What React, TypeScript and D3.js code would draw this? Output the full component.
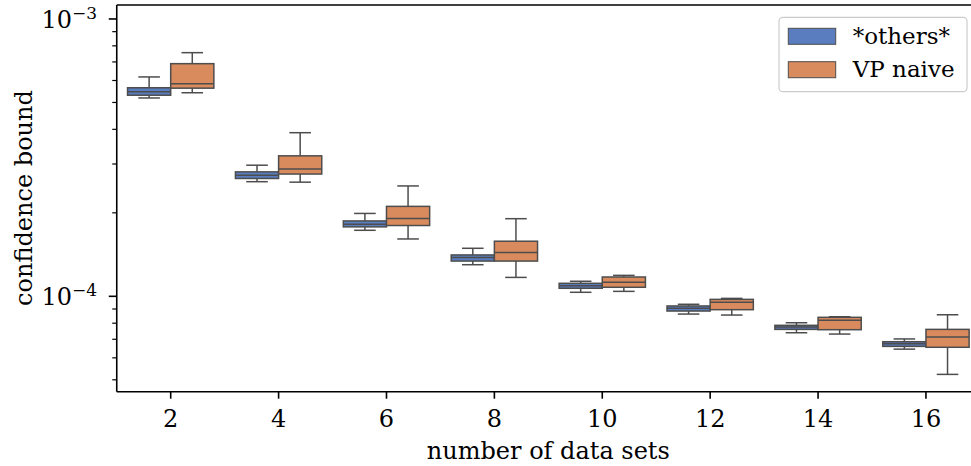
import React from "react";
import * as d3 from "d3";

const categories = ["2", "4", "6", "8", "10", "12", "14", "16"];
const seriesNames = ["*others*", "VP naive"];
// [whiskerLow, q1, median, q3, whiskerHigh]
const othersStats = [
  [5.19e-4, 5.31e-4, 5.47e-4, 5.65e-4, 6.18e-4],
  [2.59e-4, 2.66e-4, 2.73e-4, 2.81e-4, 2.97e-4],
  [1.73e-4, 1.78e-4, 1.82e-4, 1.87e-4, 1.99e-4],
  [1.3e-4, 1.34e-4, 1.38e-4, 1.41e-4, 1.49e-4],
  [1.034e-4, 1.069e-4, 1.092e-4, 1.114e-4, 1.133e-4],
  [8.63e-5, 8.85e-5, 9.05e-5, 9.23e-5, 9.36e-5],
  [7.39e-5, 7.6e-5, 7.75e-5, 7.86e-5, 8.03e-5],
  [6.45e-5, 6.6e-5, 6.75e-5, 6.86e-5, 7.02e-5],
];
const vpNaiveStats = [
  [5.42e-4, 5.63e-4, 5.84e-4, 6.9e-4, 7.56e-4],
  [2.58e-4, 2.76e-4, 2.88e-4, 3.21e-4, 3.89e-4],
  [1.61e-4, 1.8e-4, 1.91e-4, 2.11e-4, 2.5e-4],
  [1.17e-4, 1.34e-4, 1.44e-4, 1.58e-4, 1.905e-4],
  [1.042e-4, 1.078e-4, 1.123e-4, 1.174e-4, 1.19e-4],
  [8.56e-5, 8.95e-5, 9.51e-5, 9.75e-5, 9.83e-5],
  [7.31e-5, 7.58e-5, 8.19e-5, 8.4e-5, 8.44e-5],
  [5.23e-5, 6.55e-5, 7.13e-5, 7.6e-5, 8.58e-5],
];
const majorTicks = [1e-4, 1e-3];
const majorTickExponents = ["−4", "−3"];
const minorTicks = [5e-5, 6e-5, 7e-5, 8e-5, 9e-5, 2e-4, 3e-4, 4e-4, 5e-4, 6e-4, 7e-4, 8e-4, 9e-4];

const colors = ["#597dbf", "#da8b5e"];
const lineColor = "#4d4d4d";
const FONT = "'DejaVu Serif', serif";

export default function App() {
  const left = 116.75;
  const right = 979.9;
  const top = 5;
  const bottom = 391.7;
  const x = d3.scaleLinear().domain([-0.5, categories.length - 0.5]).range([left, right]);
  const y = d3.scaleLog().domain([4.53e-5, 1.123e-3]).range([bottom, top]);
  const allStats = [othersStats, vpNaiveStats];
  const boxW = 0.4;
  const lw = 1.5;

  return (
    <svg
      width={971}
      height={466}
      style={{ position: "absolute", left: 0, top: 0, background: "#fff" }}
      fontFamily={FONT}
    >
      <rect x={0} y={0} width={971} height={466} fill="#fff" />
      {/* boxes */}
      {allStats.map((stats, s) =>
        stats.map((st, i) => {
          const off = s === 0 ? -0.2 : 0.2;
          const cx = x(i + off);
          const x0 = x(i + off - boxW / 2);
          const x1 = x(i + off + boxW / 2);
          const c0 = x(i + off - boxW / 4);
          const c1 = x(i + off + boxW / 4);
          const [lo, q1, med, q3, hi] = st;
          return (
            <g key={`${s}-${i}`} stroke={lineColor} strokeWidth={lw} fill="none">
              <line x1={cx} x2={cx} y1={y(q1)} y2={y(lo)} />
              <line x1={cx} x2={cx} y1={y(q3)} y2={y(hi)} />
              <line x1={c0} x2={c1} y1={y(lo)} y2={y(lo)} />
              <line x1={c0} x2={c1} y1={y(hi)} y2={y(hi)} />
              <rect x={x0} y={y(q3)} width={x1 - x0} height={y(q1) - y(q3)} fill={colors[s]} />
              <line x1={x0} x2={x1} y1={y(med)} y2={y(med)} />
            </g>
          );
        })
      )}
      {/* spines */}
      <g stroke="#000" strokeWidth={1.6} fill="none">
        <line x1={left} x2={left} y1={top} y2={bottom} />
        <line x1={left} x2={right} y1={bottom} y2={bottom} />
        <line x1={left} x2={right} y1={top} y2={top} />
        <line x1={right} x2={right} y1={top} y2={bottom} />
      </g>
      {/* y ticks */}
      {majorTicks.map((t, k) => (
        <g key={`M${k}`}>
          <line x1={left - 8} x2={left} y1={y(t)} y2={y(t)} stroke="#000" strokeWidth={1.6} />
          <text x={97} y={y(t) + 9} textAnchor="end" fontSize={24} fill="#000">
            <tspan>10</tspan>
            <tspan dy={-9} fontSize={17}>{majorTickExponents[k]}</tspan>
          </text>
        </g>
      ))}
      {minorTicks.map((t, k) => (
        <line key={`m${k}`} x1={left - 4.5} x2={left} y1={y(t)} y2={y(t)} stroke="#000" strokeWidth={1.2} />
      ))}
      {/* x ticks */}
      {categories.map((c, i) => (
        <g key={c}>
          <line x1={x(i)} x2={x(i)} y1={bottom} y2={bottom + 7} stroke="#000" strokeWidth={1.6} />
          <text x={x(i)} y={427} textAnchor="middle" fontSize={24} fill="#000">
            {c}
          </text>
        </g>
      ))}
      {/* axis labels */}
      <text x={(left + right) / 2} y={459} textAnchor="middle" fontSize={24} fill="#000">
        number of data sets
      </text>
      <text transform={`translate(32,198) rotate(-90)`} textAnchor="middle" fontSize={24} fill="#000">
        confidence bound
      </text>
      {/* legend */}
      <rect x={779} y={17.3} width={188} height={74.4} rx={4} fill="#fff" fillOpacity={0.8} stroke="#cccccc" strokeWidth={1.2} />
      {seriesNames.map((n, k) => (
        <g key={n}>
          <rect x={788.3} y={28.3 + k * 33.4} width={47.4} height={16} fill={colors[k]} stroke={lineColor} strokeWidth={1} />
          <text x={852.7} y={44 + k * 33.4} fontSize={23} fill="#000">
            {n}
          </text>
        </g>
      ))}
    </svg>
  );
}
